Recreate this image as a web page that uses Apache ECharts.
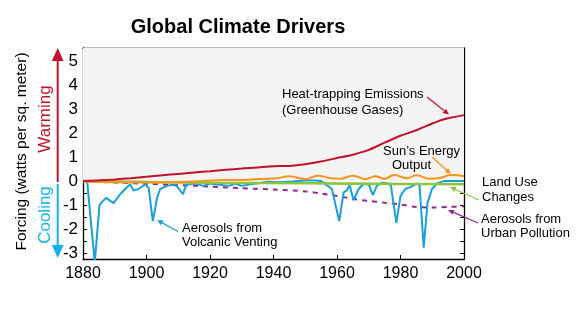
<!DOCTYPE html>
<html><head><meta charset="utf-8">
<script src="https://cdn.jsdelivr.net/npm/echarts@6/dist/echarts.min.js"></script>
<style>html,body{margin:0;padding:0;background:#fff}#c{width:576px;height:326px}</style>
</head><body><div id="c"></div>
<script>
// ---- data ----
const xMin = 1880, xMax = 2000;
const yMin = -3.25, yMax = 5.55;
const yLabelValues = [-3, -2, -1, 0, 1, 2, 3, 4, 5];
const yTickValues = [-3, -2.5, -2, -1.5, -1, -0.5, 0, 0.5, 1, 1.5, 2, 2.5, 3, 3.5, 4, 4.5, 5, 5.5];

const ghgYears  = [1880, 1885, 1890, 1895, 1900, 1905, 1910, 1915, 1920, 1925, 1930, 1935, 1940, 1945, 1950, 1955, 1960, 1965, 1970, 1975, 1980, 1985, 1990, 1993, 1996, 2000];
const ghgValues = [0, 0.03, 0.07, 0.12, 0.18, 0.24, 0.3, 0.36, 0.41, 0.47, 0.52, 0.57, 0.62, 0.63, 0.7, 0.82, 0.96, 1.1, 1.3, 1.6, 1.89, 2.12, 2.4, 2.55, 2.65, 2.75];

const sunYears  = [1880, 1890, 1900, 1910, 1918, 1925, 1932, 1938, 1941, 1945, 1950, 1954, 1958, 1961, 1965, 1969, 1972, 1975, 1978, 1982, 1985, 1989, 1992, 1996, 2000];
const sunValues = [-0.02, -0.05, -0.06, -0.04, 0, 0.04, 0.06, 0.1, 0.12, 0.2, 0.08, 0.22, 0.12, 0.1, 0.22, 0.08, 0.2, 0.1, 0.25, 0.12, 0.24, 0.1, 0.12, 0.25, 0.2];

const landYears  = [1880, 1900, 1920, 1950, 1980, 2000];
const landValues = [0, -0.04, -0.07, -0.09, -0.12, -0.13];

const urbanYears  = [1880, 1890, 1900, 1910, 1920, 1930, 1940, 1950, 1955, 1960, 1965, 1970, 1975, 1980, 1985, 1990, 1995, 2000];
const urbanValues = [0, -0.06, -0.11, -0.17, -0.23, -0.3, -0.35, -0.43, -0.52, -0.62, -0.74, -0.83, -0.9, -0.98, -1.08, -1.1, -1.08, -1.05];

const volcYears  = [1880, 1881.3, 1883.7, 1885.2, 1885.9, 1887.3, 1889.6, 1891.7, 1893.9, 1894.9, 1895.9, 1897.5, 1899.6, 1900.7, 1902, 1903.3, 1904.3, 1906.5, 1908, 1909.5, 1911.5, 1912.5, 1915, 1918, 1920, 1923, 1926, 1928, 1930, 1933, 1936, 1938, 1942, 1946, 1950, 1953, 1955, 1958.4, 1960.7, 1962.1, 1963, 1964, 1965.2, 1966.8, 1968.4, 1970, 1971.3, 1972.6, 1974.2, 1976.3, 1977, 1978.7, 1980, 1981.5, 1983.1, 1985.2, 1986, 1987.3, 1988.5, 1989.9, 1991.5, 1993.6, 2000];
const volcValues = [0, 0, -3.4, -1.0, -0.88, -0.7, -0.92, -0.55, -0.25, -0.13, -0.4, -0.33, -0.13, -0.3, -1.67, -0.7, -0.33, -0.2, -0.15, -0.2, -0.55, -0.15, -0.1, -0.2, -0.1, -0.15, -0.2, -0.1, -0.2, -0.12, -0.08, -0.03, -0.05, -0.02, 0.02, 0.02, 0, -0.33, -1.67, -0.47, -0.4, -0.18, -0.8, -0.33, -0.11, -0.15, -0.59, -0.18, -0.07, -0.1, -0.2, -1.74, -0.62, -0.33, -0.25, -0.1, -0.18, -2.78, -0.92, -0.33, -0.1, 0, 0];

// ---- chart ----
const FONT = "'Liberation Sans', Arial, sans-serif";
const RED = '#c1122e', BLUE = '#1a9fd6', ORANGE = '#f7941d', GREEN = '#8cc63f', PURPLE = '#93278f', CYAN = '#12b2ee';
const zip = (xs, ys) => xs.map((x, i) => [x, ys[i]]);

function arrow(x1, y1, x2, y2, color, head, lw) {
  head = head || 6; lw = lw || 1.2;
  const a = Math.atan2(y2 - y1, x2 - x1);
  const bx = x2 - head * Math.cos(a), by = y2 - head * Math.sin(a);
  const w = head * 0.45;
  const px = -Math.sin(a) * w, py = Math.cos(a) * w;
  return [
    {type: 'line', silent: true, z: 100, shape: {x1, y1, x2: bx, y2: by}, style: {stroke: color, lineWidth: lw}},
    {type: 'polygon', silent: true, z: 100, shape: {points: [[x2, y2], [bx + px, by + py], [bx - px, by - py]]}, style: {fill: color}}
  ];
}
function txt(x, y, text, color, size) {
  return {type: 'text', x, y, silent: true, z: 100,
    style: {text, fill: color || '#000', font: (size || 13) + 'px ' + FONT, align: 'left', verticalAlign: 'middle'}};
}
function vtxt(x, y, text, color, size) {
  return {type: 'text', x, y, rotation: Math.PI / 2, silent: true, z: 100,
    style: {text, fill: color, font: size + 'px ' + FONT, align: 'center', verticalAlign: 'middle'}};
}

const axisLineStyle = {color: '#000', width: 1.3};
const chart = echarts.init(document.getElementById('c'), null, {renderer: 'canvas'});
chart.setOption({
  animation: false,
  backgroundColor: '#fff',
  title: {text: 'Global Climate Drivers', left: 233, top: 12, textAlign: 'center',
    textStyle: {fontFamily: FONT, fontSize: 20, fontWeight: 'bold', color: '#000'}},
  grid: {left: 83, right: 112, top: 48, bottom: 67, containLabel: false, outerBoundsMode: 'none'},
  xAxis: [
    {type: 'value', min: xMin, max: xMax, interval: 20, position: 'bottom',
      axisLine: {show: true, onZero: false, lineStyle: axisLineStyle},
      axisTick: {show: true, inside: true, length: 4, lineStyle: {color: '#000'}},
      axisLabel: {color: '#000', fontSize: 16, fontFamily: FONT, margin: 7, formatter: v => String(v)},
      splitLine: {show: false}},
    {type: 'value', min: xMin, max: xMax, interval: 20, position: 'top',
      axisLine: {show: true, onZero: false, lineStyle: axisLineStyle},
      axisTick: {show: true, inside: true, length: 3, lineStyle: {color: '#000'}},
      axisLabel: {show: false}, splitLine: {show: false}}
  ],
  yAxis: [
    {type: 'value', min: yMin, max: yMax, position: 'left',
      axisLine: {show: true, onZero: false, lineStyle: axisLineStyle},
      axisTick: {show: true, inside: true, length: 4, customValues: yTickValues, lineStyle: {color: '#000'}},
      axisLabel: {color: '#000', fontSize: 17, fontFamily: FONT, margin: 5, customValues: yLabelValues},
      splitLine: {show: false}},
    {type: 'value', min: yMin, max: yMax, position: 'right',
      axisLine: {show: true, onZero: false, lineStyle: axisLineStyle},
      axisTick: {show: true, inside: true, length: 4, customValues: yTickValues, lineStyle: {color: '#000'}},
      axisLabel: {show: false}, splitLine: {show: false}}
  ],
  series: [
    {name: 'Aerosols from Urban Pollution', type: 'line', data: zip(urbanYears, urbanValues), smooth: 0.3, symbol: 'none',
      lineStyle: {color: PURPLE, width: 2, type: [5, 5]}, z: 2,
      markArea: {silent: true, itemStyle: {color: '#f4f4f4'}, data: [[{yAxis: 0}, {yAxis: yMax}]]}},
    {name: 'Aerosols from Volcanic Venting', type: 'line', data: zip(volcYears, volcValues), symbol: 'none',
      lineStyle: {color: BLUE, width: 2}, z: 3},
    {name: 'Land Use Changes', type: 'line', data: zip(landYears, landValues), smooth: 0.3, symbol: 'none',
      lineStyle: {color: GREEN, width: 2.6}, z: 4},
    {name: "Sun's Energy Output", type: 'line', data: zip(sunYears, sunValues), smooth: 0.5, symbol: 'none',
      lineStyle: {color: ORANGE, width: 2}, z: 5},
    {name: 'Heat-trapping Emissions', type: 'line', data: zip(ghgYears, ghgValues), smooth: 0.3, symbol: 'none',
      lineStyle: {color: RED, width: 2}, z: 6}
  ],
  graphic: [].concat(
    [
      vtxt(22, 151.5, 'Forcing (watts per sq. meter)', '#000', 15.5),
      vtxt(45, 119, 'Warming', RED, 17),
      vtxt(45, 215, 'Cooling', CYAN, 17),
      txt(282, 94, 'Heat-trapping Emissions'), txt(282, 110.5, '(Greenhouse Gases)'),
      txt(383, 151.5, 'Sun\u2019s Energy'), txt(392, 165.5, 'Output'),
      txt(482, 182.5, 'Land Use'), txt(482, 197, 'Changes'),
      txt(481, 219.5, 'Aerosols from'), txt(481, 233.5, 'Urban Pollution'),
      txt(182, 228.5, 'Aerosols from'), txt(182, 242.5, 'Volcanic Venting')
    ],
    arrow(57.7, 182, 57.7, 48, RED, 13, 2),
    arrow(57.7, 184, 57.7, 258, CYAN, 13, 2),
    arrow(427, 97, 449, 114.5, RED, 6, 1.2),
    arrow(432, 157, 451, 174, ORANGE, 6, 1.2),
    arrow(479, 200, 450, 187, GREEN, 6, 1.2),
    arrow(478, 223, 448, 210, PURPLE, 6, 1.2),
    arrow(178, 231.5, 157, 220, BLUE, 6, 1.2)
  )
});
</script></body></html>
